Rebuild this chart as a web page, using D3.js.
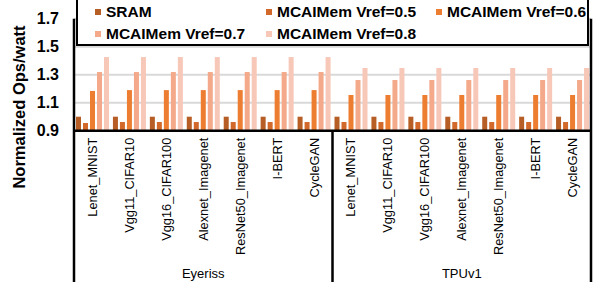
<!DOCTYPE html>
<html>
<head>
<meta charset="utf-8">
<script src="https://cdn.jsdelivr.net/npm/d3@7"></script>
<style>
  body { margin: 0; background: #fff; }
  svg { display: block; font-family: "Liberation Sans", Arial, sans-serif; }
</style>
</head>
<body>
<div class="chart"></div>
<script>
// data
var models = ["Lenet_MNIST", "Vgg11_CIFAR10", "Vgg16_CIFAR100", "Alexnet_Imagenet", "ResNet50_Imagenet", "I-BERT", "CycleGAN"];
var platforms = ["Eyeriss", "TPUv1"];
var seriesNames = ["SRAM", "MCAIMem Vref=0.5", "MCAIMem Vref=0.6", "MCAIMem Vref=0.7", "MCAIMem Vref=0.8"];
var colors = ["#B65E25", "#D2692A", "#ED7D31", "#F3A98A", "#F7C8B8"];

var eyerissSRAM = [1, 1, 1, 1, 1, 1, 1];
var eyerissV05  = [0.955, 0.962, 0.962, 0.962, 0.962, 0.962, 0.962];
var eyerissV06  = [1.184, 1.19, 1.19, 1.19, 1.19, 1.19, 1.19];
var eyerissV07  = [1.319, 1.319, 1.319, 1.319, 1.319, 1.319, 1.319];
var eyerissV08  = [1.426, 1.426, 1.426, 1.426, 1.426, 1.426, 1.426];

var tpuSRAM = [1, 1, 1, 1, 1, 1, 1];
var tpuV05  = [0.962, 0.962, 0.962, 0.962, 0.962, 0.962, 0.962];
var tpuV06  = [1.155, 1.155, 1.155, 1.155, 1.155, 1.155, 1.155];
var tpuV07  = [1.262, 1.262, 1.262, 1.262, 1.262, 1.262, 1.262];
var tpuV08  = [1.348, 1.348, 1.348, 1.348, 1.348, 1.348, 1.348];

var yTicks = [0.9, 1.1, 1.3, 1.5, 1.7];

function chart() {
  var bySeries = {
    Eyeriss: [eyerissSRAM, eyerissV05, eyerissV06, eyerissV07, eyerissV08],
    TPUv1: [tpuSRAM, tpuV05, tpuV06, tpuV07, tpuV08]
  };

  // rows: one per (platform, model)
  var rows = [];
  platforms.forEach(function (p) {
    models.forEach(function (m, i) {
      rows.push({
        key: p + "|" + m, platform: p, model: m,
        values: seriesNames.map(function (s, k) { return { series: s, k: k, v: bySeries[p][k][i] }; })
      });
    });
  });

  var width = 610, height = 288;
  var plotLeft = 74, plotRight = 591, plotTop = 18.7, plotBottom = 130.7, frameBottom = 282;

  var svg = d3.select(".chart").append("svg")
    .attr("width", width).attr("height", height);

  var x0 = d3.scaleBand().domain(rows.map(function (d) { return d.key; }))
    .range([plotLeft, plotRight]).padding(0);
  var x1 = d3.scaleBand().domain(seriesNames).range([2, 35])
    .paddingInner(2 / 7).paddingOuter(0);
  var y = d3.scaleLinear().domain([0.9, 1.7]).range([plotBottom, plotTop]);

  // gridlines
  svg.append("g").selectAll("line")
    .data(yTicks.slice(1))
    .enter().append("line")
    .attr("x1", plotLeft).attr("x2", plotRight)
    .attr("y1", function (d) { return y(d); })
    .attr("y2", function (d) { return y(d); })
    .attr("stroke", "#D9D9D9").attr("stroke-width", 2);

  // bars
  var groups = svg.append("g").selectAll("g")
    .data(rows).enter().append("g")
    .attr("transform", function (d) { return "translate(" + x0(d.key) + ",0)"; });

  groups.selectAll("rect")
    .data(function (d) { return d.values; })
    .enter().append("rect")
    .attr("x", function (d) { return x1(d.series); })
    .attr("width", x1.bandwidth())
    .attr("y", function (d) { return y(d.v); })
    .attr("height", function (d) { return y(0.9) - y(d.v); })
    .attr("fill", function (d) { return colors[d.k]; });

  // y axis
  var yAxis = svg.append("g")
    .attr("transform", "translate(" + plotLeft + ",0)")
    .call(d3.axisLeft(y).tickValues(yTicks).tickFormat(d3.format(".1f")).tickSize(0).tickPadding(15));
  yAxis.select(".domain").remove();
  yAxis.selectAll("text")
    .attr("font-size", "16px").attr("font-weight", "bold")
    .attr("font-family", "Liberation Sans, Arial, sans-serif").attr("fill", "#000");

  // y title
  svg.append("text")
    .attr("transform", "translate(19,107) rotate(-90)")
    .attr("text-anchor", "middle").attr("dy", "0.35em")
    .attr("font-size", "16.5px").attr("font-weight", "bold")
    .text("Normalized Ops/watt");

  // x axis (model labels)
  var xAxis = svg.append("g")
    .attr("transform", "translate(0," + plotBottom + ")")
    .call(d3.axisBottom(x0).tickSize(0).tickFormat(function (k) { return k.split("|")[1]; }));
  xAxis.select(".domain").remove();
  xAxis.selectAll("text")
    .attr("transform", "rotate(-90)")
    .attr("x", -7).attr("y", 0).attr("dy", "0.35em")
    .attr("text-anchor", "end")
    .attr("font-size", "12.8px")
    .attr("font-family", "Liberation Sans, Arial, sans-serif").attr("fill", "#000");

  // platform labels
  var platformSpans = platforms.map(function (p) {
    var keys = rows.filter(function (r) { return r.platform === p; }).map(function (r) { return r.key; });
    return { name: p, x0: x0(keys[0]), x1: x0(keys[keys.length - 1]) + x0.bandwidth() };
  });
  svg.selectAll(".plat")
    .data(platformSpans).enter().append("text")
    .attr("x", function (d) { return (d.x0 + d.x1) / 2; })
    .attr("y", 278)
    .attr("text-anchor", "middle")
    .attr("font-size", "13px")
    .text(function (d) { return d.name; });

  // frame lines
  var frame = svg.append("g").attr("stroke", "#000").attr("stroke-width", 2.5);
  frame.append("line").attr("x1", plotLeft).attr("x2", plotLeft).attr("y1", plotTop).attr("y2", frameBottom);
  frame.append("line").attr("x1", plotRight).attr("x2", plotRight).attr("y1", plotTop).attr("y2", frameBottom);
  frame.append("line").attr("x1", plotLeft).attr("x2", plotRight).attr("y1", plotBottom).attr("y2", plotBottom);
  frame.append("line")
    .attr("x1", platformSpans[1].x0).attr("x2", platformSpans[1].x0)
    .attr("y1", plotBottom).attr("y2", frameBottom);

  // legend
  var legend = svg.append("g");
  legend.append("rect")
    .attr("x", 77).attr("y", -2).attr("width", 511).attr("height", 47)
    .attr("fill", "#fff").attr("stroke", "#000").attr("stroke-width", 2);

  var legendPos = [[95, 12], [266, 12], [436, 12], [95, 34], [266, 34]];
  var items = legend.selectAll(".item")
    .data(seriesNames).enter().append("g")
    .attr("transform", function (d, i) { return "translate(" + legendPos[i][0] + "," + legendPos[i][1] + ")"; });
  items.append("rect")
    .attr("x", 0).attr("y", -3).attr("width", 6).attr("height", 6)
    .attr("fill", function (d, i) { return colors[i]; });
  items.append("text")
    .attr("x", 11).attr("dy", "0.35em")
    .attr("font-size", "15.5px").attr("font-weight", "bold")
    .text(function (d) { return d; });
}

chart();
</script>
</body>
</html>
